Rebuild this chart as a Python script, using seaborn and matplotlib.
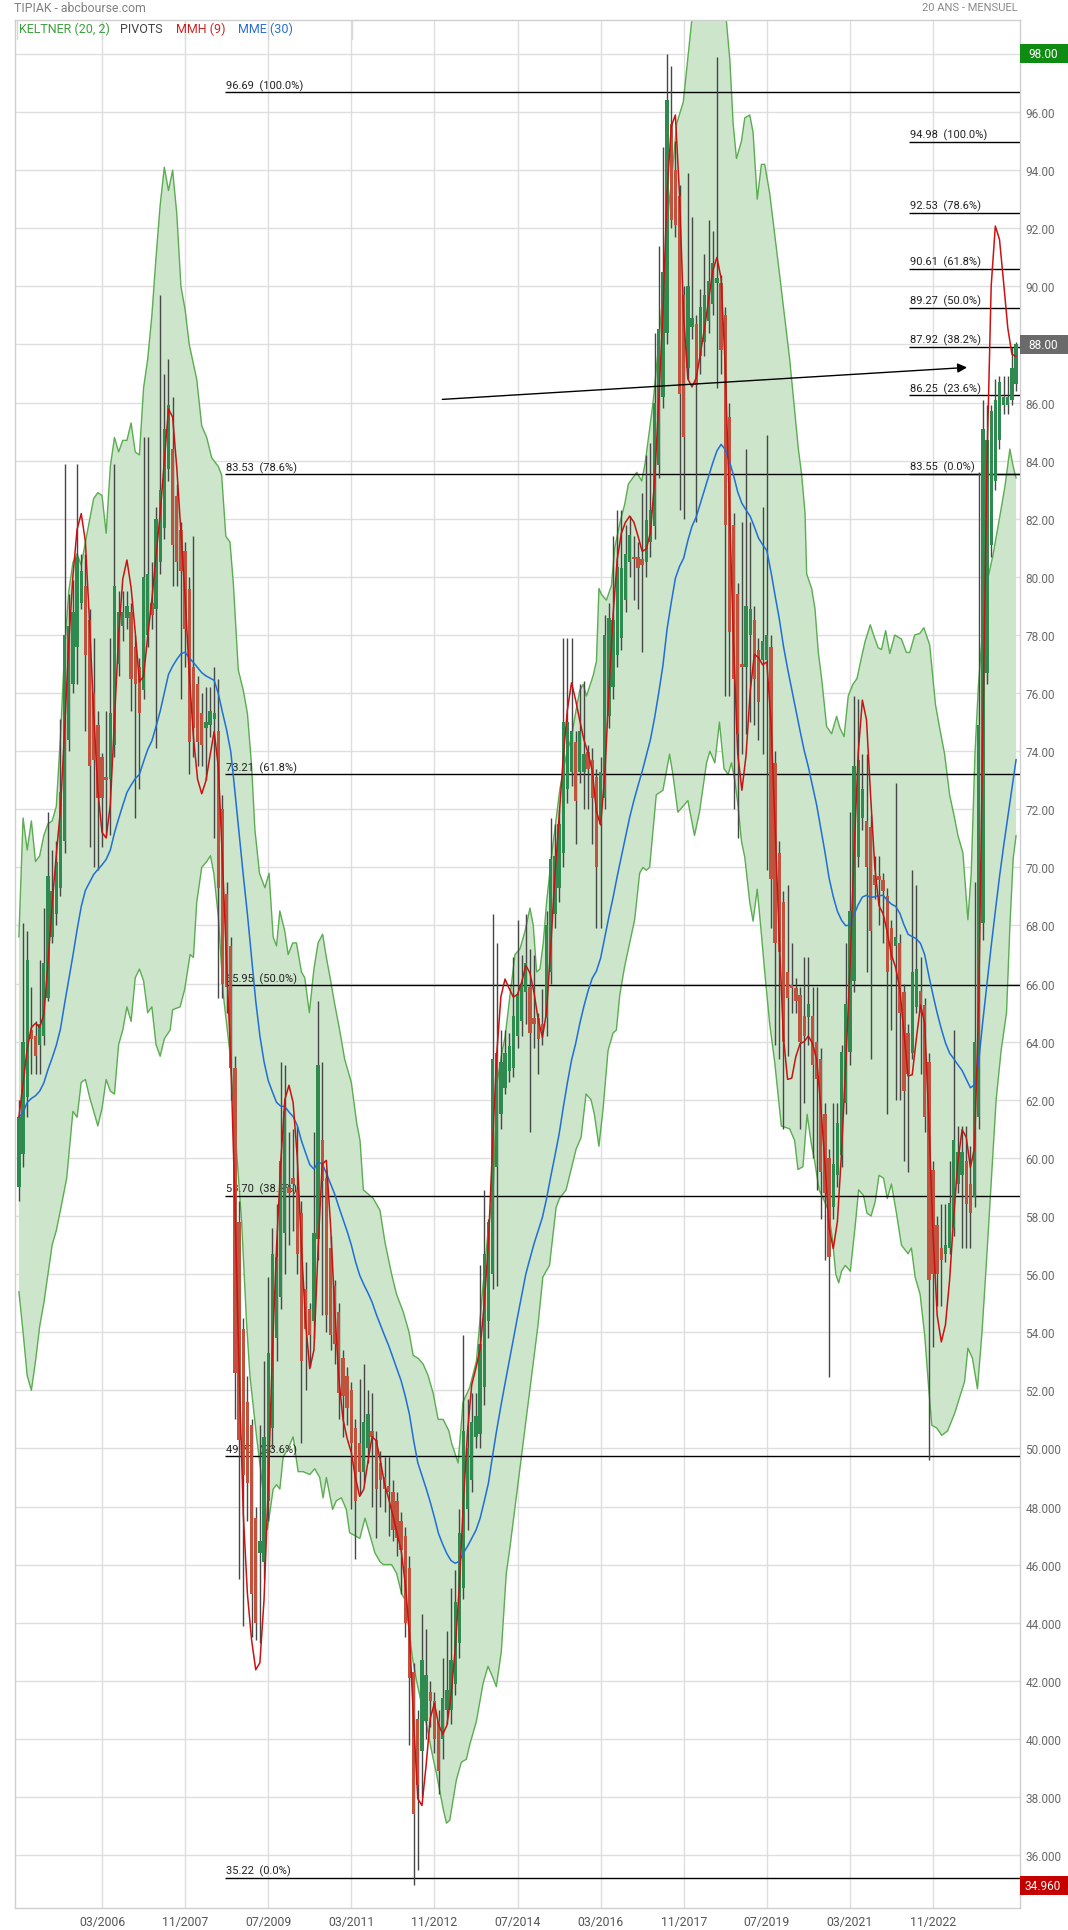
"""
TIPIAK monthly chart (20 years) - candles, Keltner channel, MMH(9), MME(30), Fibonacci pivots
"""

import numpy as np
import pandas as pd
import matplotlib
matplotlib.use('Agg')
import matplotlib.pyplot as plt
import matplotlib.transforms as mtransforms
from matplotlib.patches import Rectangle
from matplotlib.lines import Line2D
import seaborn as sns

# ==================== Data (monthly OHLC, 07/2004 -> 07/2024) ====================
first_month = '2004-07-01'

opens = [
    59.0, 60.15, 62.1, 64.4, 64.2, 63.9, 64.2, 65.5, 67.6, 68.4, 69.3, 70.9,
    74.4, 76.3, 77.6, 79.1, 79.7, 78.5, 76.0, 74.9, 73.8, 73.1, 73.05, 74.2,
    77.0, 78.3, 78.6, 78.8, 77.6, 76.9, 76.1, 78.0, 79.1, 78.9, 80.5, 81.7,
    83.7, 84.4, 82.8, 81.6, 80.9, 79.6, 76.9, 76.3, 75.3, 74.8, 74.9, 75.1,
    74.7, 72.0, 69.1, 67.3, 63.1, 57.8, 54.1, 51.6, 50.8, 47.6, 46.4, 46.1,
    48.2, 50.7, 53.8, 55.2, 57.4, 59.0, 59.3, 58.9, 58.1, 55.5, 54.8, 54.4,
    57.2, 60.6, 59.3, 56.9, 55.6, 54.7, 53.1, 52.5, 52.0, 50.7, 50.2, 49.2,
    50.0, 50.6, 50.3, 49.5, 49.0, 48.7, 48.5, 48.2, 47.5, 47.0, 45.9, 42.3,
    40.7, 39.6, 40.6, 41.6, 41.3, 40.6, 40.0, 41.0, 41.0, 41.9, 43.3, 45.2,
    47.9, 48.9, 50.4, 50.5, 52.1, 54.4, 56.0, 59.7, 61.5, 62.4, 63.0, 63.1,
    64.2, 64.7, 65.7, 65.9, 64.8, 64.8, 64.6, 64.8, 66.4, 68.4, 69.3, 70.5,
    72.7, 73.3, 74.3, 73.3, 73.3, 73.97, 73.7, 73.1, 71.5, 72.4, 75.2, 76.2,
    77.3, 77.9, 79.2, 80.5, 80.7, 80.7, 80.6, 80.5, 81.2, 81.75, 83.85, 86.2,
    88.4, 95.6, 94.0, 93.1, 89.7, 87.2, 88.6, 88.7, 87.6, 88.1, 88.8, 89.4,
    90.1, 90.1, 89.0, 85.5, 81.8, 79.4, 77.0, 76.9, 78.0, 78.5, 77.5, 77.15,
    77.15, 77.6, 73.6, 70.5, 68.8, 66.4, 65.95, 65.85, 65.6, 64.9, 64.85, 64.9,
    64.0, 63.4, 61.5, 60.0, 58.3, 59.4, 60.1, 61.9, 63.65, 66.1, 70.35, 71.7,
    71.6, 71.4, 69.75, 69.7, 69.55, 69.0, 67.9, 67.3, 67.4, 65.7, 64.3, 63.6,
    65.2, 65.75, 65.25, 63.3, 59.6, 57.7, 56.9, 56.7, 56.9, 57.6, 59.1, 59.4,
    59.9, 59.1, 58.65, 61.4, 68.1, 76.7, 81.1, 83.3, 84.7, 85.9, 85.9, 86.1, 86.65,
]

highs = [
    62.0, 68.1, 67.8, 65.9, 64.7, 66.8, 68.6, 71.9, 70.6, 70.9, 75.1, 83.9,
    79.4, 79.9, 83.9, 80.8, 80.8, 78.9, 77.9, 75.4, 73.95, 75.4, 77.9, 83.9,
    79.5, 79.5, 79.5, 79.1, 78.0, 77.2, 84.8, 84.8, 80.5, 82.4, 89.7, 87.0,
    87.5, 86.2, 83.2, 81.9, 81.2, 80.0, 81.4, 76.6, 76.0, 76.2, 76.2, 76.9,
    76.5, 72.5, 69.5, 67.6, 63.5, 58.5, 54.5, 52.5, 51.0, 48.0, 50.8, 53.0,
    55.9, 57.6, 58.4, 63.3, 63.2, 60.9, 61.0, 61.1, 58.5, 56.4, 55.0, 60.9,
    65.4, 63.3, 59.6, 57.3, 55.8, 55.0, 53.4, 52.8, 52.3, 51.0, 52.4, 52.9,
    52.0, 51.9, 50.6, 49.9, 49.7, 49.7, 48.9, 48.5, 47.8, 47.3, 46.3, 42.6,
    41.0, 44.3, 43.8, 42.0, 41.6, 41.0, 42.8, 43.7, 45.2, 45.8, 47.9, 53.9,
    51.7, 51.9, 51.9, 56.3, 58.9, 57.9, 68.4, 67.4, 64.4, 64.4, 64.3, 66.9,
    68.2, 67.0, 68.4, 67.2, 67.0, 65.0, 65.8, 68.5, 71.7, 71.5, 72.0, 77.9,
    77.9, 77.9, 74.7, 76.3, 76.4, 74.2, 74.1, 73.4, 73.8, 78.7, 79.1, 81.4,
    82.3, 82.3, 81.8, 82.1, 81.4, 81.2, 82.9, 84.2, 84.6, 88.4, 91.4, 94.8,
    98.0, 97.6, 95.0, 93.5, 90.0, 93.9, 92.4, 89.0, 89.9, 91.1, 92.3, 91.9,
    97.9, 90.4, 89.3, 86.0, 82.2, 79.8, 81.9, 84.4, 81.9, 79.0, 77.9, 82.4,
    84.9, 78.0, 74.0, 70.9, 69.2, 69.4, 67.4, 66.2, 65.9, 66.9, 66.9, 65.9,
    65.9, 63.8, 61.9, 60.3, 61.9, 61.9, 63.9, 67.4, 71.9, 75.9, 75.8, 73.9,
    73.9, 71.8, 70.4, 70.4, 69.8, 69.3, 68.2, 72.9, 67.7, 66.0, 64.6, 69.9,
    69.4, 66.9, 65.5, 63.6, 59.9, 58.0, 58.4, 58.4, 59.9, 64.4, 61.1, 61.1,
    61.1, 60.4, 69.5, 83.6, 86.1, 85.9, 85.9, 86.8, 86.9, 86.9, 86.9, 87.9, 88.1,
]

lows = [
    58.5, 59.7, 61.4, 62.9, 62.9, 62.9, 63.9, 65.4, 67.4, 68.0, 69.0, 70.5,
    74.0, 76.0, 76.3, 78.9, 74.7, 70.7, 70.0, 69.9, 70.7, 71.1, 71.1, 73.8,
    76.6, 77.8, 78.2, 75.4, 71.7, 72.7, 75.8, 77.6, 78.2, 74.1, 80.1, 81.3,
    83.3, 79.7, 79.7, 75.8, 76.9, 73.2, 73.8, 73.5, 73.5, 73.0, 74.5, 71.0,
    65.5, 65.5, 65.0, 62.0, 51.0, 45.5, 43.9, 47.5, 43.5, 43.4, 43.3, 45.5,
    47.5, 50.0, 53.0, 54.8, 56.0, 57.0, 57.5, 56.0, 50.2, 52.0, 52.8, 53.8,
    56.5, 54.6, 54.0, 53.4, 52.9, 51.0, 50.4, 50.8, 47.9, 46.2, 48.4, 48.8,
    49.5, 48.0, 46.9, 48.0, 47.8, 47.0, 46.8, 46.3, 45.0, 43.5, 39.8, 34.96,
    35.5, 38.0, 40.0, 40.4, 39.5, 38.1, 39.3, 40.5, 40.5, 41.5, 42.8, 44.8,
    47.2, 48.5, 50.0, 50.0, 51.5, 53.8, 55.5, 55.6, 61.0, 62.2, 62.6, 62.8,
    63.8, 64.2, 64.6, 60.9, 63.8, 62.9, 63.9, 64.2, 66.0, 67.9, 68.8, 70.0,
    72.2, 72.8, 70.8, 72.9, 72.0, 72.0, 70.8, 67.9, 67.9, 72.0, 74.8, 75.8,
    76.9, 77.5, 78.8, 80.0, 79.2, 78.9, 77.4, 80.0, 80.7, 81.3, 83.4, 85.8,
    88.0, 92.0, 91.7, 82.3, 82.0, 86.8, 88.2, 81.9, 87.0, 87.6, 88.4, 89.0,
    86.5, 87.0, 75.9, 75.9, 72.0, 71.0, 73.9, 74.6, 75.0, 74.9, 74.4, 73.9,
    69.9, 67.9, 63.9, 63.4, 61.0, 63.5, 65.0, 65.0, 61.0, 61.9, 63.9, 60.0,
    58.9, 57.9, 56.5, 52.45, 57.9, 59.0, 59.7, 61.5, 63.2, 65.7, 70.0, 71.3,
    66.4, 63.4, 68.9, 68.0, 67.4, 61.5, 64.4, 62.0, 62.0, 59.9, 59.5, 63.4,
    65.0, 62.9, 60.9, 49.6, 53.5, 54.9, 54.9, 56.4, 56.7, 57.3, 58.8, 56.9,
    56.9, 56.9, 58.3, 61.0, 67.5, 76.3, 80.7, 83.0, 84.4, 85.6, 85.6, 85.9, 86.4,
]

closes = [
    61.4, 64.0, 66.8, 64.1, 63.5, 64.6, 66.7, 69.7, 69.2, 70.2, 72.6, 78.0,
    78.3, 78.8, 80.7, 80.2, 77.3, 73.5, 73.7, 72.4, 72.4, 73.0, 75.3, 79.7,
    78.8, 78.8, 79.0, 76.5, 76.3, 75.3, 80.0, 80.1, 78.7, 82.0, 83.0, 85.1,
    85.9, 81.1, 80.5, 80.2, 78.2, 74.3, 74.8, 74.3, 74.2, 75.0, 75.4, 75.3,
    69.3, 66.0, 65.9, 63.1, 52.6, 50.3, 49.1, 48.8, 45.0, 44.0, 46.8, 50.4,
    53.3, 56.7, 56.6, 59.9, 61.6, 58.8, 59.1, 56.7, 53.0, 54.1, 53.9, 57.4,
    63.2, 59.2, 54.6, 53.9, 53.6, 51.9, 51.8, 51.4, 50.2, 48.2, 49.2, 50.9,
    51.2, 50.4, 48.6, 48.9, 48.6, 48.5, 47.2, 46.9, 46.5, 44.0, 42.1, 37.4,
    38.4, 42.7, 42.2, 41.3, 40.0, 38.9, 41.4, 41.7, 42.7, 44.7, 47.1, 50.6,
    50.0, 50.9, 51.1, 53.6, 56.7, 57.8, 63.4, 63.6, 63.3, 63.6, 63.85, 64.9,
    65.6, 66.0, 66.7, 64.3, 64.6, 64.1, 64.4, 68.0, 70.3, 70.4, 71.5, 75.0,
    75.0, 74.7, 72.3, 74.7, 73.9, 73.4, 72.4, 70.0, 73.3, 78.0, 78.6, 78.5,
    80.35, 80.3, 80.8, 81.45, 80.6, 80.3, 80.4, 81.95, 82.3, 86.0, 88.55, 90.5,
    96.4, 92.3, 92.1, 86.3, 84.8, 90.0, 88.9, 86.6, 89.3, 89.7, 90.2, 90.8,
    90.3, 87.8, 81.8, 78.1, 76.5, 74.6, 76.9, 79.0, 78.9, 76.5, 75.7, 77.8,
    78.0, 69.6, 67.4, 67.1, 64.0, 65.5, 65.85, 65.4, 64.0, 64.2, 65.3, 63.2,
    62.7, 59.5, 58.8, 56.6, 59.8, 61.2, 63.65, 65.3, 68.5, 73.5, 73.7, 72.7,
    70.0, 67.8, 69.4, 69.55, 69.2, 66.4, 66.8, 67.6, 65.0, 62.3, 62.9, 66.4,
    66.5, 65.0, 61.4, 55.8, 56.0, 56.0, 56.5, 57.0, 58.45, 60.6, 60.2, 60.2,
    58.4, 58.1, 64.0, 74.9, 85.1, 84.7, 85.7, 86.1, 86.7, 86.2, 86.2, 87.2, 88.0,
]

# Keltner (20, 2) channel edges (month index, price)
kc_up_k = [
    0, 1, 2, 3, 4, 5, 6, 7, 8, 9, 10, 11, 12, 13, 14, 15, 16, 18, 19, 20,
    21, 22, 23, 24, 25, 26, 27, 28, 29, 30, 31, 32, 33, 34, 35, 36, 37, 38, 39, 40,
    41, 42.8, 44.0, 45.2, 46.4, 48.0, 48.8, 49.8, 50.8, 51.6, 52.8, 54.0, 55.0, 56.0, 56.8, 57.9,
    59.2, 60.2, 61.2, 62.0, 62.8, 64.0, 64.8, 65.9, 66.8, 68.0, 68.8, 69.9, 71.0, 72.0, 73.1, 74.0,
    74.9, 76.0, 77.2, 78.4, 80.0, 81.3, 82.1, 82.9, 84.5, 85.3, 86.9, 88.1, 89.7, 90.9, 92.5, 93.9,
    94.9, 96.1, 97.3, 98.5, 99.7, 100.9, 102.1, 103.5, 104.1, 105.7, 106.9, 108.5, 110.1, 111.7, 112.8, 114.2,
    115.0, 116.2, 117.0, 118.2, 119.4, 120.6, 121.8, 123.0, 123.8, 124.6, 125.4, 126.2, 127.0, 128.2, 130.2, 131.8,
    133.0, 134.2, 135.0, 135.8, 136.6, 138.2, 139.0, 139.6, 140.2, 141.4, 142.6, 143.4, 144.7, 145.8, 146.7, 148.7,
    149.9, 150.7, 151.9, 152.7, 153.9, 155.1, 156.3, 157.5, 158.3, 159.9, 161.1, 161.9, 163.0, 165.0, 168.0, 169.5,
    170.3, 171.1, 171.9, 172.7, 173.9, 174.7, 175.9, 176.7, 177.7, 178.7, 179.5, 180.7, 183.0, 185.5, 187.6, 188.4,
    189.2, 189.6, 190.8, 191.6, 192.4, 193.2, 194.4, 195.6, 196.8, 197.6, 198.6, 199.6, 200.7, 201.7, 202.9, 203.7,
    204.9, 205.8, 206.8, 207.6, 208.6, 209.6, 210.8, 212.4, 213.6, 214.4, 215.6, 216.8, 217.8, 219.2, 220.6, 221.6,
    222.8, 224.0, 225.2, 226.0, 227.2, 228.4, 229.2, 230.1, 230.9, 232.1, 233.3, 234.5, 236.1, 237.3, 238.5, 239.3,
    240.0,
]
kc_up_v = [
    67.6, 71.7, 70.6, 71.6, 70.2, 70.4, 71.1, 71.5, 71.6, 72.1, 74.5, 77.5, 79.5, 80.5, 80.8, 80.4, 81.2, 82.7, 82.9, 82.8,
    81.5, 83.8, 84.8, 84.3, 84.7, 84.7, 85.3, 84.3, 84.2, 86.5, 87.5, 89.0, 91.0, 92.8, 94.1, 93.3, 94.0, 92.5, 90.0, 89.2,
    88.0, 86.8, 85.2, 84.8, 84.1, 83.8, 83.5, 81.4, 81.2, 79.8, 76.8, 76.1, 75.3, 73.5, 71.3, 69.8,
    69.3, 69.8, 67.6, 67.3, 68.5, 67.8, 67.0, 67.4, 67.4, 66.4, 66.2, 65.0, 66.5, 67.4, 67.7, 66.9,
    66.2, 65.3, 64.4, 63.4, 62.6, 61.2, 60.6, 58.9, 58.7, 58.6, 58.2, 57.1, 56.0, 55.3, 54.7, 54.0,
    53.2, 53.1, 52.9, 52.5, 51.9, 51.0, 51.0, 50.6, 50.2, 49.5, 51.6, 52.1, 53.0, 55.6, 57.3, 59.0,
    62.5, 63.6, 64.15, 65.6, 67.0, 67.2, 67.8, 68.6, 68.0, 66.4, 66.5, 67.4, 68.8, 70.4, 72.7, 73.9,
    74.5, 75.5, 76.1, 76.3, 75.9, 76.6, 77.1, 79.6, 79.4, 79.2, 79.7, 81.0, 81.9, 82.5, 83.2, 83.6,
    83.3, 83.9, 85.2, 86.1, 87.9, 90.0, 92.6, 94.3, 95.6, 96.35, 98.0, 99.1, 100.5, 101.0, 101.0, 100.3,
    99.1, 97.8, 95.6, 94.4, 95.0, 95.8, 95.9, 95.3, 93.0, 94.2, 94.2, 93.2, 90.5, 87.5, 84.4, 83.5,
    82.2, 80.1, 79.6, 78.9, 77.4, 76.5, 74.85, 74.6, 75.2, 74.8, 74.5, 75.9, 76.3, 76.5, 77.3, 77.8,
    78.35, 77.96, 77.56, 77.5, 78.15, 77.36, 78.0, 77.86, 77.4, 77.4, 78.0, 78.05, 78.25, 77.66, 75.6, 74.8,
    73.9, 72.5, 71.7, 71.1, 70.5, 68.2, 69.8, 73.9, 76.2, 78.5, 80.0, 80.8, 82.1, 83.1, 84.4, 83.8,
    83.4,
]
kc_low_k = [
    0, 1, 2, 3, 4, 5, 6, 7, 8, 9, 10, 11.5, 13, 14, 15, 16, 17, 19, 20, 21,
    22, 23, 24, 25, 26, 27, 28, 29, 30, 31, 32, 33, 34, 35, 36.4, 37, 38.8, 39.9, 41.2, 42.0,
    42.8, 44.0, 45.2, 46.1, 46.9, 48.0, 49.2, 50.8, 52.4, 53.6, 54.8, 55.6, 57.2, 58.4, 59.2, 59.8,
    60.4, 61.2, 62.0, 62.8, 63.6, 64.8, 66.0, 67.2, 68.4, 70.0, 71.2, 72.4, 73.2, 74.0, 75.5, 76.4,
    77.6, 78.8, 79.6, 80.8, 82.05, 83.3, 84.5, 85.7, 86.9, 87.7, 89.7, 90.9, 92.1, 92.9, 93.7, 94.7,
    95.7, 96.9, 98.1, 99.3, 100.5, 102.1, 102.9, 103.7, 105.3, 106.5, 107.7, 108.5, 110.1, 111.7, 112.9, 114.1,
    114.9, 116.1, 117.3, 118.1, 124.9, 126.1, 127.7, 129.3, 130.1, 131.7, 134.1, 135.3, 136.5, 137.7, 138.5, 139.6,
    140.6, 141.8, 143.0, 143.8, 144.6, 145.8, 147.0, 148.2, 149.4, 150.2, 151.0, 151.8, 153.4, 155.0, 156.6, 157.4,
    158.6, 159.8, 161.0, 162.6, 163.8, 164.7, 165.5, 166.3, 167.5, 168.6, 169.7, 170.7, 171.5, 172.3, 173.1, 173.9,
    174.7, 175.9, 176.7, 177.7, 178.7, 179.5, 180.7, 181.9, 183.5, 185.5, 186.7, 187.5, 188.7, 189.7, 190.7, 191.5,
    192.6, 193.6, 194.8, 195.8, 196.6, 197.3, 198.0, 198.9, 200.1, 201.3, 202.1, 203.3, 204.1, 205.1, 206.1, 207.0,
    208.1, 209.0, 210.0, 211.2, 212.4, 214.0, 214.8, 215.7, 216.9, 218.0, 218.9, 219.7, 220.9, 222.1, 223.5, 225.2,
    226.5, 227.6, 228.4, 229.5, 230.7, 231.8, 232.9, 234.1, 235.2, 236.4, 237.7, 238.5, 239.3, 240.0,
]
kc_low_v = [
    55.4, 54.0, 52.5, 52.0, 53.0, 54.2, 55.0, 56.0, 57.0, 57.5, 58.2, 59.3, 61.6, 61.4, 62.6, 62.7, 62.1, 61.1, 61.7, 62.7,
    62.3, 62.2, 63.9, 64.4, 65.2, 64.7, 66.2, 66.5, 66.1, 65.0, 65.2, 63.9, 63.5, 64.1, 64.4, 65.1, 65.2, 65.8, 67.0, 66.9,
    68.8, 70.0, 70.2, 70.4, 69.8, 68.3, 65.6, 63.6, 60.2, 57.8, 54.3, 52.5, 50.4, 49.0, 47.9, 47.2,
    47.8, 48.6, 48.75, 48.6, 49.7, 50.0, 50.4, 49.2, 49.2, 49.1, 49.3, 49.0, 48.3, 49.0, 47.9, 48.2,
    48.3, 47.9, 47.1, 47.0, 46.9, 47.6, 47.0, 46.4, 46.1, 46.0, 46.0, 45.7, 45.0, 44.8, 44.0, 42.8,
    42.0, 41.2, 40.5, 39.6, 38.8, 37.6, 37.1, 37.2, 38.6, 39.2, 39.3, 39.8, 40.6, 41.9, 42.5, 42.1,
    41.8, 43.0, 45.7, 46.5, 54.2, 55.9, 56.3, 58.3, 58.6, 58.9, 60.3, 60.7, 62.2, 62.0, 61.5, 60.4,
    61.7, 63.7, 64.3, 64.4, 65.6, 66.6, 67.4, 68.2, 69.8, 70.0, 69.9, 70.0, 72.5, 72.65, 73.9, 73.2,
    71.9, 72.1, 72.3, 71.1, 71.9, 72.8, 73.6, 74.0, 73.6, 75.0, 73.4, 73.2, 73.6, 73.0, 72.1, 70.9,
    70.35, 68.8, 68.15, 69.25, 67.7, 66.4, 64.6, 63.3, 61.1, 61.0, 60.6, 59.6, 59.7, 61.5, 60.5, 59.9,
    58.9, 58.6, 58.2, 57.2, 56.0, 55.7, 56.1, 56.3, 56.1, 57.7, 58.9, 58.7, 58.1, 58.0, 58.5, 59.4,
    59.3, 58.6, 59.1, 58.1, 57.0, 56.7, 56.9, 55.9, 55.3, 53.9, 52.2, 50.8, 50.7, 50.45, 50.6, 51.2,
    51.8, 52.3, 53.45, 53.1, 52.05, 54.0, 56.5, 59.4, 62.0, 63.7, 65.0, 67.95, 70.3, 71.1,
]

# Fibonacci pivots (two sets)
fib_pcts = [100.0, 78.6, 61.8, 50.0, 38.2, 23.6, 0.0]
fib_left_levels = [96.69, 83.53, 73.21, 65.95, 58.70, 49.73, 35.22]
fib_right_levels = [94.98, 92.53, 90.61, 89.27, 87.92, 86.25, 83.55]
fib_left_start = 49.6     # month index where the left set starts
fib_right_start = 214.2

# trend arrow (month index, price)
arrow_start = (101.9, 86.11)
arrow_end = (228.2, 87.21)

# price flags on the right axis
flag_values = [98.00, 88.00, 34.96]
flag_texts = ['98.00', '88.00', '34.960']
flag_colors = ['#0f8a12', '#6a6a6a', '#c40000']

# ==================== Indicators ====================
df = pd.DataFrame({'open': opens, 'high': highs, 'low': lows, 'close': closes})
df['month'] = pd.date_range(first_month, periods=len(df), freq='MS')
df['idx'] = np.arange(len(df))


def wma(s, n):
    return s.rolling(n, min_periods=1).apply(
        lambda w: np.dot(w, np.arange(1, len(w) + 1)) / np.arange(1, len(w) + 1).sum(), raw=True)


close = df['close']
df['mme'] = close.ewm(span=30, adjust=False).mean()
df['mmh'] = wma(2 * wma(close, 4) - wma(close, 9), 3)

kc_up = pd.DataFrame({'k': kc_up_k, 'v': kc_up_v})
kc_low = pd.DataFrame({'k': kc_low_k, 'v': kc_low_v})

# ==================== Figure ====================
sns.set_theme(style='white')
plt.rcParams['font.family'] = ['Roboto', 'DejaVu Sans']

W, H = 1068, 1931
fig = plt.figure(figsize=(W / 100, H / 100), dpi=100)
fig.patch.set_facecolor('white')

left_px, right_px, top_px, bottom_px = 15, 1020, 20.7, 1908.7
ax = fig.add_axes([left_px / W, 1 - bottom_px / H, (right_px - left_px) / W, (bottom_px - top_px) / H])
ax.set_facecolor('white')

xmin, xmax = -0.94, 240.94
ax.set_xlim(xmin, xmax)
ax.set_ylim(34.19, 99.18)

# grid
yticks = np.arange(36, 99, 2)
xtick_idx = np.arange(20, 221, 20)
ax.set_yticks(yticks)
ax.set_xticks(xtick_idx)
ax.grid(True, color='#dedede', linewidth=1)
ax.set_axisbelow(True)

# Keltner channel
poly_x = np.concatenate([kc_up['k'].values, kc_low['k'].values[::-1]])
poly_y = np.concatenate([kc_up['v'].values, kc_low['v'].values[::-1]])
ax.fill(poly_x, poly_y, color='#cce5cb', linewidth=0, zorder=1)
sns.lineplot(data=kc_up, x='k', y='v', ax=ax, color='#5aad50', linewidth=1, zorder=2, sort=False)
sns.lineplot(data=kc_low, x='k', y='v', ax=ax, color='#5aad50', linewidth=1, zorder=2, sort=False)

# Fibonacci pivots
for start, levels in [(fib_left_start, fib_left_levels), (fib_right_start, fib_right_levels)]:
    ax.hlines(levels, start, xmax, color='black', linewidth=1, zorder=3)
    for lv, pc in zip(levels, fib_pcts):
        ax.annotate(f'{lv:.2f}  ({pc:.1f}%)', xy=(start, lv), xytext=(1, 1),
                    textcoords='offset points', ha='left', va='bottom',
                    fontsize=8, color='#222222', zorder=3)

# candles
up = df['close'] >= df['open']
body_low = np.minimum(df['open'], df['close'])
body_h = np.maximum((df['close'] - df['open']).abs(), 0.1)
ax.vlines(df['idx'], df['low'], df['high'], color='#474747', linewidth=1, zorder=4)
ax.bar(df['idx'], body_h, bottom=body_low, width=0.8,
       color=np.where(up, '#2f8a50', '#bf533d'), linewidth=0, zorder=5)

# moving averages
sns.lineplot(x=df['idx'], y=df['mme'], ax=ax, color='#1f6fd6', linewidth=1.1, zorder=6)
sns.lineplot(x=df['idx'], y=df['mmh'], ax=ax, color='#cc1111', linewidth=1.1, zorder=7)

# trend arrow
ax.annotate('', xy=arrow_end, xytext=arrow_start,
            arrowprops=dict(arrowstyle='-|>', color='black', lw=1, mutation_scale=14,
                            shrinkA=0, shrinkB=0), zorder=8)

# axes styling
ax.yaxis.tick_right()
ax.set_yticklabels([f'{v:.3f}' if v <= 50 else f'{v:.2f}' for v in yticks])
ax.set_xticklabels([d.strftime('%m/%Y') for d in df['month'].iloc[xtick_idx]])
ax.tick_params(axis='y', length=0, pad=4, labelsize=8.5, labelcolor='#6a6a6a')
ax.tick_params(axis='x', length=0, pad=5, labelsize=8.8, labelcolor='#555555')
ax.set_xlabel('')
ax.set_ylabel('')
for sp in ax.spines.values():
    sp.set_color('#cfcfcf')
    sp.set_linewidth(1)

# price flags on the right
trans = mtransforms.blended_transform_factory(ax.transAxes, ax.transData)
flag_w = (W - right_px) / (right_px - left_px)
flag_h = 19 / 29.05
for val, txt, col in zip(flag_values, flag_texts, flag_colors):
    ax.add_patch(Rectangle((1.0, val - flag_h / 2), flag_w, flag_h, transform=trans,
                           facecolor=col, edgecolor='none', clip_on=False, zorder=10))
    ax.text(1.0 + flag_w * 0.48, val, txt, transform=trans, ha='center', va='center',
            color='white', fontsize=8.5, clip_on=False, zorder=11)

# header
fig.text(14 / W, 1 - 9 / H, 'TIPIAK - abcbourse.com', ha='left', va='center',
         fontsize=8.8, color='#808080')
fig.text(1018 / W, 1 - 8 / H, '20 ANS - MENSUEL', ha='right', va='center',
         fontsize=8, color='#8a8a8a')

# indicator legend row
legend_items = [('KELTNER (20, 2)', '#3da03d', 19),
                ('PIVOTS', '#444444', 120),
                ('MMH (9)', '#cc2222', 176),
                ('MME (30)', '#2a6fd0', 238.5)]
for txt, col, xpx in legend_items:
    fig.text(xpx / W, 1 - 29.5 / H, txt, ha='left', va='center', fontsize=9, color=col)
for xpx in [16.7, 102.3, 185, 268.3, 351.7]:
    fig.add_artist(Line2D([xpx / W, xpx / W], [1 - 20.7 / H, 1 - 40 / H],
                          transform=fig.transFigure, color='#d8d8d8', linewidth=1))

fig.savefig('out.png', dpi=100)
print('saved out.png')
